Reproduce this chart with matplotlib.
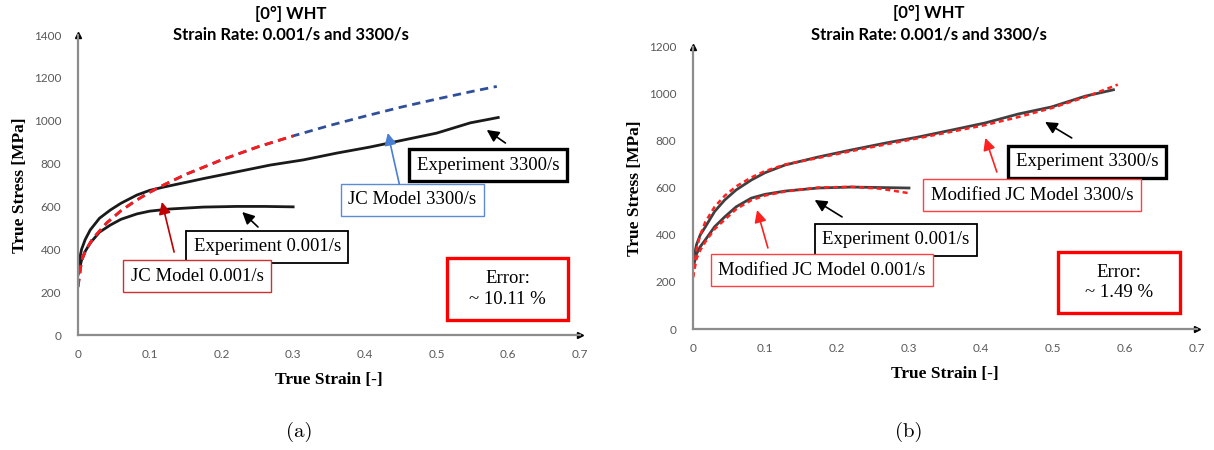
import numpy as np
import matplotlib.pyplot as plt
from matplotlib.patches import Rectangle

# ---- datos ----
# (a) JC model
eps_exp_hi_a = [0, 0.005, 0.01, 0.017, 0.03, 0.045, 0.06, 0.082, 0.1, 0.119, 0.15, 0.175, 0.221, 0.268, 0.314, 0.361, 0.407, 0.454, 0.50, 0.547, 0.586]
sig_exp_hi_a = [320, 400, 445, 490, 545, 583, 615, 653, 675, 690, 712, 730, 761, 793, 817, 849, 877, 910, 942, 990, 1015]
eps_exp_lo_a = [0, 0.005, 0.01, 0.017, 0.03, 0.045, 0.06, 0.082, 0.1, 0.128, 0.175, 0.221, 0.26, 0.30]
sig_exp_lo_a = [280, 350, 390, 429, 480, 513, 540, 565, 578, 588, 597, 600, 600, 598]
eps_jc_lo_a = [0, 0.005, 0.01, 0.02, 0.04, 0.06, 0.08, 0.10, 0.12, 0.15, 0.20, 0.25, 0.30]
sig_jc_lo_a = [224, 347, 390, 447, 523, 580, 626, 666, 701, 749, 817, 877, 929]
eps_jc_hi_a = [0, 0.005, 0.01, 0.02, 0.04, 0.06, 0.08, 0.10, 0.12, 0.15, 0.20, 0.25, 0.30, 0.35, 0.40, 0.45, 0.50, 0.55, 0.584]
sig_jc_hi_a = [224, 347, 390, 447, 523, 580, 626, 666, 701, 749, 817, 877, 929, 977, 1021, 1063, 1101, 1137, 1160]

# (b) modified JC model
eps_exp_hi_b = [0, 0.005, 0.01, 0.017, 0.03, 0.044, 0.06, 0.081, 0.1, 0.128, 0.174, 0.22, 0.267, 0.313, 0.36, 0.406, 0.452, 0.498, 0.545, 0.584]
sig_exp_hi_b = [290, 360, 400, 434, 500, 549, 592, 634, 665, 698, 732, 762, 791, 817, 847, 877, 915, 945, 991, 1018]
eps_mod_hi_b = [0, 0.005, 0.01, 0.017, 0.03, 0.044, 0.06, 0.081, 0.1, 0.128, 0.174, 0.22, 0.267, 0.313, 0.36, 0.406, 0.452, 0.498, 0.545, 0.59]
sig_mod_hi_b = [220, 340, 400, 455, 520, 567, 607, 645, 672, 700, 728, 757, 785, 812, 840, 868, 902, 940, 987, 1040]
eps_exp_lo_b = [0, 0.005, 0.01, 0.017, 0.03, 0.044, 0.06, 0.081, 0.1, 0.128, 0.174, 0.22, 0.26, 0.30]
sig_exp_lo_b = [260, 320, 350, 379, 435, 477, 520, 557, 573, 587, 600, 604, 602, 600]
eps_mod_lo_b = [0, 0.005, 0.01, 0.017, 0.03, 0.044, 0.06, 0.081, 0.1, 0.128, 0.174, 0.22, 0.26, 0.30]
sig_mod_lo_b = [220, 300, 335, 370, 425, 465, 510, 548, 568, 585, 602, 605, 597, 578]

xticks = [0, 0.1, 0.2, 0.3, 0.4, 0.5, 0.6, 0.7]
xticklabels = ['0', '0.1', '0.2', '0.3', '0.4', '0.5', '0.6', '0.7']
yticks_a = [0, 200, 400, 600, 800, 1000, 1200, 1400]
yticks_b = [0, 200, 400, 600, 800, 1000, 1200]

titulo1 = '[0°] WHT'
titulo2 = 'Strain Rate: 0.001/s and 3300/s'
error_a = 'Error:\n~ 10.11 %'
error_b = 'Error:\n~ 1.49 %'

SERIF = 'Liberation Serif'
SANS = 'Lato'
GRIS = '#595959'
W, H = 1214, 450

fig = plt.figure(figsize=(12.14, 4.5), dpi=100)
ax_a = fig.add_axes([78/W, 115/H, 502/W, 300/H])
ax_b = fig.add_axes([693/W, 121/H, 504/W, 282/H])


def estilo(ax, yticks, ymax):
    ax.set_xlim(0, 0.7)
    ax.set_ylim(0, ymax)
    for s in ['top', 'right']:
        ax.spines[s].set_visible(False)
    for s in ['left', 'bottom']:
        ax.spines[s].set_color('#8c8c8c')
        ax.spines[s].set_linewidth(1.6)
    ax.set_xticks(xticks)
    ax.set_xticklabels(xticklabels)
    ax.set_yticks(yticks)
    ax.tick_params(axis='x', length=0, labelsize=8.5, labelcolor=GRIS, pad=10)
    ax.tick_params(axis='y', length=0, labelsize=8.5, labelcolor=GRIS, pad=12)
    for lb in ax.get_xticklabels() + ax.get_yticklabels():
        lb.set_fontfamily(SANS)
    # flechas de los ejes
    ax.plot(1, 0, '>', color='black', ms=5, transform=ax.transAxes, clip_on=False)
    ax.plot(0, 1, '^', color='black', ms=5, transform=ax.transAxes, clip_on=False)
    ax.set_xlabel('True Strain [-]', fontfamily=SERIF, fontweight='bold', fontsize=12.5, labelpad=9)
    ax.set_ylabel('True Stress [MPa]', fontfamily=SERIF, fontweight='bold', fontsize=12.5, labelpad=4)


def caja(ax, x, y, texto, color, lw, flecha=None, color_flecha=None):
    ax.text(x, y, texto, ha='center', va='center', fontfamily=SERIF, fontsize=13.5,
            bbox=dict(boxstyle='square,pad=0.4', fc='white', ec=color, lw=lw), zorder=5)
    if flecha is not None:
        (hx, hy), (tx, ty) = flecha
        ax.annotate('', xy=(hx, hy), xytext=(tx, ty),
                    arrowprops=dict(arrowstyle='-|>', color=color_flecha, lw=1.2, mutation_scale=18,
                                    shrinkA=0, shrinkB=0), zorder=6)


def caja_error(ax, x0, x1, y0, y1, texto):
    ax.add_patch(Rectangle((x0, y0), x1 - x0, y1 - y0, fc='white', ec='#ff0000', lw=2.4, zorder=5))
    ax.text((x0 + x1) / 2, (y0 + y1) / 2, texto, ha='center', va='center', fontfamily=SERIF,
            fontsize=13.5, linespacing=1.3, zorder=6)


# ---- (a) ----
estilo(ax_a, yticks_a, 1400)
ax_a.plot(eps_exp_hi_a, sig_exp_hi_a, color='#1a1a1a', lw=2)
ax_a.plot(eps_exp_lo_a, sig_exp_lo_a, color='#1a1a1a', lw=2)
ax_a.plot(eps_jc_hi_a, sig_jc_hi_a, color='#2f4f9a', lw=2, ls=(0, (3, 2)))
ax_a.plot(eps_jc_lo_a, sig_jc_lo_a, color='#ff1a1a', lw=2, ls=(0, (3, 2)))

caja(ax_a, 0.572, 793, 'Experiment 3300/s', 'black', 2.4, ((0.570, 957), (0.596, 896)), 'black')
caja(ax_a, 0.466, 630, 'JC Model 3300/s', '#5b8bd6', 1.0, ((0.432, 943), (0.448, 705)), '#4a7fd4')
caja(ax_a, 0.264, 411, 'Experiment 0.001/s', 'black', 1.3, ((0.229, 574), (0.251, 504)), 'black')
caja(ax_a, 0.166, 275, 'JC Model 0.001/s', '#d03030', 1.0, ((0.117, 621), (0.134, 387)), '#c00000')
caja_error(ax_a, 0.515, 0.683, 70, 359, error_a)

# ---- (b) ----
estilo(ax_b, yticks_b, 1200)
ax_b.plot(eps_exp_hi_b, sig_exp_hi_b, color='#404040', lw=2)
ax_b.plot(eps_exp_lo_b, sig_exp_lo_b, color='#404040', lw=2)
ax_b.plot(eps_mod_hi_b, sig_mod_hi_b, color='#ff2020', lw=1.8, ls=(0, (2, 1.5)))
ax_b.plot(eps_mod_lo_b, sig_mod_lo_b, color='#ff2020', lw=1.8, ls=(0, (2, 1.5)))

caja(ax_b, 0.547, 711, 'Experiment 3300/s', 'black', 2.4, ((0.489, 881), (0.526, 813)), 'black')
caja(ax_b, 0.471, 570, 'Modified JC Model 3300/s', '#ff4040', 1.0, ((0.406, 813), (0.422, 668)), '#ff2020')
caja(ax_b, 0.282, 379, 'Experiment 0.001/s', 'black', 1.3, ((0.169, 549), (0.207, 477)), 'black')
caja(ax_b, 0.179, 251, 'Modified JC Model 0.001/s', '#ff4040', 1.0, ((0.089, 506), (0.104, 345)), '#ff2020')
caja_error(ax_b, 0.507, 0.676, 68, 328, error_b)

# titulos (por encima de los ejes, como en el original)
for cx, y1, y2 in [(291, 14, 35), (929, 13, 35)]:
    fig.text(cx/W, 1 - y1/H, titulo1, ha='center', va='center', fontfamily=SANS, fontweight='bold', fontsize=12)
    fig.text(cx/W, 1 - y2/H, titulo2, ha='center', va='center', fontfamily=SANS, fontweight='bold', fontsize=12)

# pies de figura
fig.text(299/W, 1 - 432/H, '(a)', ha='center', va='center', fontfamily='cmr10', fontsize=15)
fig.text(909/W, 1 - 432/H, '(b)', ha='center', va='center', fontfamily='cmr10', fontsize=15)

fig.savefig('out.png', dpi=100, facecolor='white')
